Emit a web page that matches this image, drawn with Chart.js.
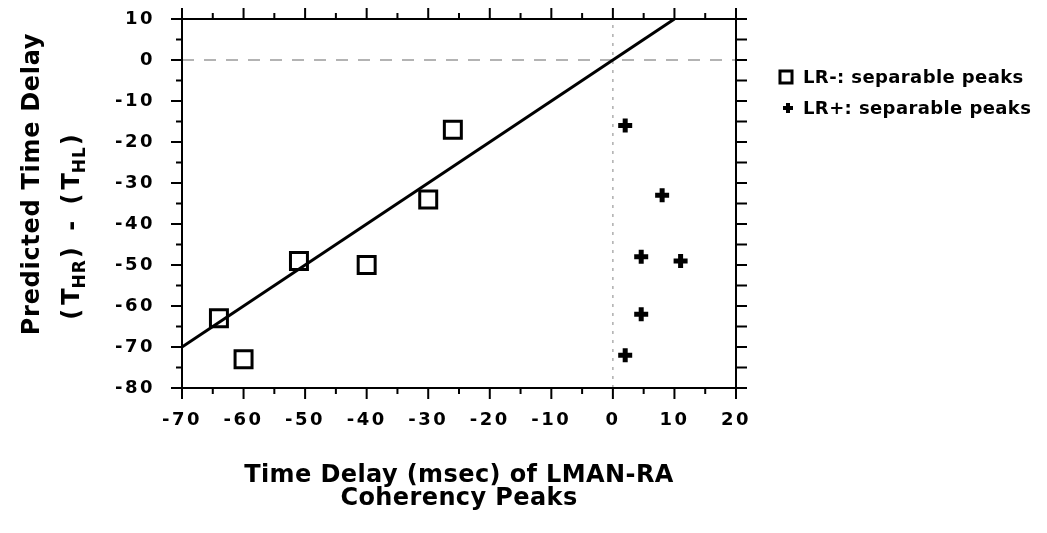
<!DOCTYPE html>
<html>
<head>
<meta charset="utf-8">
<script src="https://cdn.jsdelivr.net/npm/chart.js@4"></script>
<style>
  html, body { margin: 0; padding: 0; background: #fff; }
  #wrap { width: 1047px; height: 533px; }
</style>
</head>
<body>
<div id="wrap"><canvas id="myChart" width="1047" height="533"></canvas></div>
<script>
// valores
const lrMenosX = [-64, -60, -51, -40, -30, -26];
const lrMenosY = [-63, -73, -49, -50, -34, -17];
const lrMaisX = [2, 8, 4.6, 11, 4.6, 2];
const lrMaisY = [-16, -33, -48, -49, -62, -72];
const retaX = [-70, 10];
const retaY = [-70, 10];
const zeroHorizX = [-70, 20];
const zeroVertY = [-80, 10];
const xTicks = [-70, -60, -50, -40, -30, -20, -10, 0, 10, 20];
const yTicks = [10, 0, -10, -20, -30, -40, -50, -60, -70, -80];
const legendas = ['LR-: separable peaks', 'LR+: separable peaks'];

const fonte = '"DejaVu Sans", Verdana, sans-serif';

function pontos(xs, ys) {
  return xs.map((x, i) => ({ x: x, y: ys[i] }));
}

// molduras, marcas dos eixos, titulos e legenda
const extras = {
  id: 'extras',
  beforeDraw(chart) {
    chart.ctx.letterSpacing = '2.5px';
  },
  afterDraw(chart) {
    const ctx = chart.ctx;
    const a = chart.chartArea;
    const sx = chart.scales.x;
    const sy = chart.scales.y;
    ctx.save();
    ctx.letterSpacing = '0px';
    ctx.strokeStyle = '#000';
    ctx.lineWidth = 2;
    ctx.strokeRect(a.left, a.top, a.right - a.left, a.bottom - a.top);

    ctx.beginPath();
    for (let v = sx.min; v <= sx.max; v += 5) {
      const p = sx.getPixelForValue(v);
      const len = v % 10 === 0 ? 11 : 6;
      ctx.moveTo(p, a.bottom); ctx.lineTo(p, a.bottom + len);
      ctx.moveTo(p, a.top); ctx.lineTo(p, a.top - len);
    }
    for (let v = sy.min; v <= sy.max; v += 5) {
      const p = sy.getPixelForValue(v);
      const len = v % 10 === 0 ? 11 : 6;
      ctx.moveTo(a.left, p); ctx.lineTo(a.left - len, p);
      ctx.moveTo(a.right, p); ctx.lineTo(a.right + 11, p);
    }
    ctx.stroke();

    ctx.fillStyle = '#000';
    ctx.letterSpacing = '0.4px';
    ctx.font = 'bold 24px ' + fonte;
    ctx.textAlign = 'center';
    ctx.textBaseline = 'alphabetic';
    const cx = (a.left + a.right) / 2;
    ctx.fillText('Time Delay (msec) of LMAN-RA', cx, 482);
    ctx.fillText('Coherency Peaks', cx, 505);

    // titulo do eixo y, girado
    ctx.letterSpacing = '0.7px';
    ctx.save();
    ctx.translate(39, 184);
    ctx.rotate(-Math.PI / 2);
    ctx.textAlign = 'center';
    ctx.fillText('Predicted Time Delay', 0, 0);
    ctx.restore();

    ctx.save();
    ctx.translate(79, 225);
    ctx.rotate(-Math.PI / 2);
    const partes = [
      ['(T', 0], ['HR', 1], [') - (T', 0], ['HL', 1], [')', 0]
    ];
    const estilo = (sub) => {
      ctx.font = (sub ? 'bold 17px ' : 'bold 24px ') + fonte;
      ctx.letterSpacing = sub ? '1px' : '4px';
    };
    let total = 0;
    for (const [t, sub] of partes) {
      estilo(sub);
      total += ctx.measureText(t).width + (sub ? -3 : 0);
    }
    let px = -total / 2;
    ctx.textAlign = 'left';
    for (const [t, sub] of partes) {
      estilo(sub);
      if (sub) px -= 4;
      ctx.fillText(t, px, sub ? 6 : 0);
      px += ctx.measureText(t).width + (sub ? 1 : 0);
    }
    ctx.restore();

    // legenda
    const ds = chart.data.datasets;
    const linhas = [{ d: ds[0], y: 77, r: 8.5, w: 3 }, { d: ds[1], y: 108, r: 5, w: 4 }];
    ctx.font = 'bold 18px ' + fonte;
    ctx.letterSpacing = '0.4px';
    ctx.textAlign = 'left';
    ctx.textBaseline = 'middle';
    linhas.forEach((l, i) => {
      ctx.lineWidth = l.w;
      ctx.strokeStyle = '#000';
      ctx.fillStyle = 'rgba(0,0,0,0)';
      Chart.helpers.drawPoint(ctx, { pointStyle: l.d.pointStyle, rotation: 0, borderWidth: l.w, radius: l.r },
        i === 0 ? 786 : 788, l.y);
      ctx.fillStyle = '#000';
      ctx.fillText(l.d.label, 803, l.y + 1);
    });
    ctx.restore();
  }
};

const ctx = document.getElementById('myChart');
new Chart(ctx, {
  type: 'scatter',
  data: {
    datasets: [
      {
        label: legendas[0],
        data: pontos(lrMenosX, lrMenosY),
        pointStyle: 'rect',
        pointRadius: 12,
        pointBorderWidth: 3,
        pointBorderColor: '#000',
        pointBackgroundColor: 'rgba(0,0,0,0)',
        order: 1
      },
      {
        label: legendas[1],
        data: pontos(lrMaisX, lrMaisY),
        pointStyle: 'cross',
        pointRadius: 7,
        pointBorderWidth: 5,
        pointBorderColor: '#000',
        order: 1
      },
      {
        label: 'reta',
        data: pontos(retaX, retaY),
        showLine: true,
        borderColor: '#000',
        borderWidth: 3,
        pointRadius: 0,
        order: 2
      },
      {
        label: 'zero horizontal',
        data: pontos(zeroHorizX, [0, 0]),
        showLine: true,
        borderColor: '#9a9a9a',
        borderWidth: 1.5,
        borderDash: [12, 10],
        pointRadius: 0,
        order: 3
      },
      {
        label: 'zero vertical',
        data: pontos([0, 0], zeroVertY),
        showLine: true,
        borderColor: '#9a9a9a',
        borderWidth: 1.2,
        borderDash: [3, 6],
        pointRadius: 0,
        order: 3
      }
    ]
  },
  options: {
    responsive: false,
    animation: false,
    layout: { padding: { left: 0, right: 311, top: 19, bottom: 0 } },
    plugins: {
      legend: { display: false },
      tooltip: { enabled: false }
    },
    scales: {
      x: {
        type: 'linear',
        min: xTicks[0],
        max: xTicks[xTicks.length - 1],
        afterBuildTicks: (s) => { s.ticks = xTicks.map(v => ({ value: v })); },
        afterFit: (s) => { s.height = 145; s.paddingLeft = 0; s.paddingRight = 0; },
        grid: { display: false, drawTicks: false },
        border: { display: false },
        ticks: {
          color: '#000',
          padding: 22,
          maxRotation: 0,
          font: { family: fonte, size: 18, weight: 'bold' }
        }
      },
      y: {
        type: 'linear',
        min: yTicks[yTicks.length - 1],
        max: yTicks[0],
        afterBuildTicks: (s) => { s.ticks = yTicks.map(v => ({ value: v })); },
        afterFit: (s) => { s.width = 182; s.paddingTop = 0; s.paddingBottom = 0; },
        grid: { display: false, drawTicks: false },
        border: { display: false },
        ticks: {
          color: '#000',
          padding: 27,
          font: { family: fonte, size: 18, weight: 'bold' }
        }
      }
    }
  },
  plugins: [extras]
});
</script>
</body>
</html>
